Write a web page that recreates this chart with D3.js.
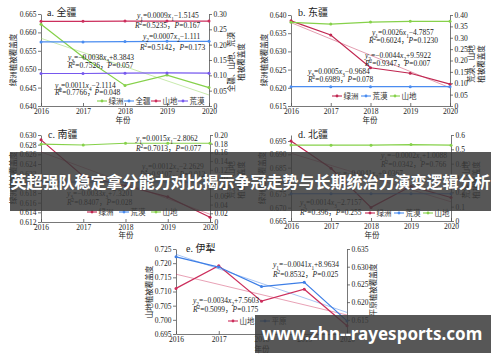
<!DOCTYPE html>
<html>
<head>
<meta charset="utf-8">
<script src="https://cdn.jsdelivr.net/npm/d3@7"></script>
<style>
  body { margin: 0; background: #fff; }
  svg { display: block; font-family: "Liberation Serif", "Noto Sans CJK SC", serif; }
</style>
</head>
<body>
<script>
const years = [2016, 2017, 2018, 2019, 2020];
const fitYears = [2016, 2020];

// a. 全疆
const aOasis = [0.6622, 0.6533, 0.6456, 0.6484, 0.6450];
const aOasisFit = [0.6584, 0.6430];
const aAll = [0.209, 0.209, 0.210, 0.211, 0.211];
const aMount = [0.276, 0.276, 0.277, 0.277, 0.277];
const aDesert = [0.106, 0.106, 0.107, 0.108, 0.107];
const aNotes = ["y_1=0.0009x_1−1.5145", "R^2=0.5235，P=0.167", "y_2=0.0007x_2−1.111", "R^2=0.5142，P=0.173",
  "y_3=−0.0038x_3+8.3843", "R^2=0.7526，P=0.057", "y_4=0.0011x_4−2.1114", "R^2=0.7766，P=0.048"];

// b. 东疆
const bOasis = [0.6384, 0.6345, 0.6255, 0.6240, 0.6210];
const bOasisFit = [0.6379, 0.6200];
const bDesert = [0.085, 0.085, 0.085, 0.085, 0.085];
const bMount = [0.368, 0.360, 0.369, 0.372, 0.372];
const bNotes = ["y_1=0.0026x_1−4.7857", "R^2=0.6024，P=0.1230", "y_2=−0.0044x_2+9.5922", "R^2=0.9347，P=0.007",
  "y_3=0.0005x_3−0.9684", "R^2=0.6989，P=0.078"];

// c. 南疆
const cOasis = [0.6290, 0.6215, 0.6195, 0.6172, 0.6130];
const cOasisFit = [0.6265, 0.6136];
const cDesert = [0.092, 0.092, 0.092, 0.092, 0.092];
const cMount = [0.179, 0.177, 0.181, 0.181, 0.181];
const cNotes = ["y_1=0.0015x_1−2.8062", "R^2=0.7013，P=0.077", "y_2=0.0012x_2−2.2629", "R^2=0.9107，P=0.012",
  "y_3=−0.0033x_3+7.3201", "R^2=0.8407，P=0.028"];

// d. 北疆
const dOasis = [0.6950, 0.6848, 0.6701, 0.6780, 0.6738];
const dOasisFit = [0.6904, 0.6722];
const dDesert = [0.190, 0.190, 0.190, 0.190, 0.190];
const dMount = [0.530, 0.529, 0.529, 0.533, 0.529];
const dNotes = ["y_1=−0.0002x_1+1.0088", "R^2=0.0342，P=0.766", "y_2=−0.0041x_2+9.0367",
  "y_3=0.0014x_3−2.7157", "R^2=0.396，P=0.255"];

// e. 伊犁
const eMount = [0.7111, 0.7191, 0.7066, 0.7108, 0.6979];
const eMountFit = [0.7161, 0.7017];
const ePlain = [0.6328, 0.6299, 0.6244, 0.6256, 0.6147];
const ePlainFit = [0.6335, 0.6171];
const eNotes = ["y_1=−0.0041x_1+8.9634", "R^2=0.8532，P=0.025", "y_2=−0.0034x_2+7.5603", "R^2=0.5099，P=0.175"];

const aLeftTicks = [0.640, 0.645, 0.650, 0.655, 0.660, 0.665];
const aRightTicks = [0, 0.05, 0.10, 0.15, 0.20, 0.25, 0.30];
const bLeftTicks = [0.615, 0.620, 0.625, 0.630, 0.635, 0.640];
const bRightTicks = [0, 0.05, 0.10, 0.15, 0.20, 0.25, 0.30, 0.35, 0.40];
const cLeftTicks = [0.612, 0.614, 0.616, 0.618, 0.620, 0.622, 0.624, 0.626, 0.628, 0.630];
const cRightTicks = [0, 0.02, 0.04, 0.06, 0.08, 0.10, 0.12, 0.14, 0.16, 0.18, 0.20];
const dLeftTicks = [0.665, 0.670, 0.675, 0.680, 0.685, 0.690, 0.695];
const dRightTicks = [0, 0.1, 0.2, 0.3, 0.4, 0.5, 0.6];
const eLeftTicks = [0.695, 0.700, 0.705, 0.710, 0.715, 0.720, 0.725];
const eRightTicks = [0.615, 0.620, 0.625, 0.630, 0.635];

const GREEN = "#86d14a", BLUE = "#4a8cf0", RED = "#cc2e5c", PURPLE = "#7658ee";

const svg = d3.select("body").append("svg").attr("width", 500).attr("height", 362);
svg.append("rect").attr("width", 500).attr("height", 362).attr("fill", "#fff");

// y_1, R^2 style markup -> tspans
function rich(t, s) {
  let i = 0;
  while (i < s.length) {
    const c = s[i];
    if (c === "_" || c === "^") {
      t.append("tspan").attr("font-size", "0.7em")
        .attr("baseline-shift", c === "_" ? "sub" : "super").text(s[i + 1]);
      i += 2;
    } else if ("yxRP".includes(c)) {
      t.append("tspan").attr("font-style", "italic").text(c);
      i++;
    } else {
      let j = i;
      while (j < s.length && !"_^yxRP".includes(s[j])) j++;
      t.append("tspan").text(s.slice(i, j));
      i = j;
    }
  }
}

const fmt2 = d => d === 0 ? "0" : d3.format(".2f")(d);
const fmt1 = d => d === 0 ? "0" : d3.format(".1f")(d);
const fmt3 = d3.format(".3f");

function panel(p) {
  const g = svg.append("g");
  const x = d3.scaleLinear().domain([2016, 2020]).range([p.x0, p.x1]);
  const yL = d3.scaleLinear().domain(p.left).range([p.y1, p.y0]);
  const yR = d3.scaleLinear().domain(p.right).range([p.y1, p.y0]);

  const ax = [
    g.append("g").attr("transform", `translate(0,${p.y1})`)
      .call(d3.axisBottom(x).tickValues(years).tickFormat(d3.format("d")).tickSize(-3).tickSizeOuter(0).tickPadding(3)),
    g.append("g").attr("transform", `translate(${p.x0},0)`)
      .call(d3.axisLeft(yL).tickValues(p.leftTicks).tickFormat(p.leftFmt).tickSize(3).tickSizeOuter(0).tickPadding(1.5)),
    g.append("g").attr("transform", `translate(${p.x1},0)`)
      .call(d3.axisRight(yR).tickValues(p.rightTicks).tickFormat(p.rightFmt).tickSize(3).tickSizeOuter(0).tickPadding(1.5))
  ];
  ax.forEach(a => {
    a.select(".domain").attr("stroke", "#555").attr("stroke-width", 0.8);
    a.selectAll(".tick line").attr("stroke", "#555").attr("stroke-width", 0.8);
    a.selectAll("text").attr("font-size", 7.5).attr("fill", "#222").attr("font-family", "Liberation Serif");
  });

  // fit lines
  p.series.filter(s => s.fit).forEach(s => {
    const y = s.axis === "L" ? yL : yR;
    g.append("path").datum(s.fit)
      .attr("d", d3.line().x((d, i) => x(fitYears[i])).y(d => y(d)))
      .attr("fill", "none").attr("stroke", s.color).attr("stroke-opacity", 0.5).attr("stroke-width", 0.9);
  });

  p.series.forEach(s => {
    const y = s.axis === "L" ? yL : yR;
    g.append("path").datum(s.values)
      .attr("d", d3.line().x((d, i) => x(years[i])).y(d => y(d)))
      .attr("fill", "none").attr("stroke", s.color).attr("stroke-width", 1.2);
    g.selectAll(null).data(s.values).join("circle")
      .attr("cx", (d, i) => x(years[i])).attr("cy", d => y(d))
      .attr("r", 1.5).attr("fill", s.color);
  });

  // legend
  p.series.forEach((s, i) => {
    const lx = p.legend[0] + i * p.legend[2], ly = p.legend[1];
    g.append("line").attr("x1", lx).attr("x2", lx + 10).attr("y1", ly).attr("y2", ly)
      .attr("stroke", s.color).attr("stroke-width", 1.1);
    g.append("circle").attr("cx", lx + 5).attr("cy", ly).attr("r", 1.4).attr("fill", s.color);
    g.append("text").attr("x", lx + 11.5).attr("y", ly).attr("dy", "0.36em")
      .attr("font-size", 7.5).attr("fill", "#333").text(s.name);
  });

  // regression notes
  p.notes.forEach((s, i) => {
    const t = g.append("text").attr("x", p.notePos[i][0]).attr("y", p.notePos[i][1])
      .attr("font-size", 7.5).attr("fill", "#222");
    rich(t, s);
  });

  g.append("text").attr("x", p.title[0]).attr("y", p.title[1])
    .attr("font-size", 10).attr("fill", "#222").text(p.titleText);

  g.append("text").attr("x", p.xLab[0]).attr("y", p.xLab[1]).attr("text-anchor", "middle")
    .attr("font-size", 7.5).attr("fill", "#222").text("年份");

  g.append("text").attr("transform", `translate(${p.yLab[0]},${p.yLab[1]}) rotate(-90)`)
    .attr("text-anchor", "middle").attr("font-size", 7.5).attr("fill", "#222").text(p.yLabText);

  p.yRLabText.forEach((s, i) => {
    g.append("text").attr("transform", `translate(${p.yRLab[0] + i * 10},${p.yRLab[1]}) rotate(-90)`)
      .attr("text-anchor", "middle").attr("font-size", 7.5).attr("fill", "#222").text(s);
  });
}

panel({
  x0: 41, x1: 209, y0: 14, y1: 106,
  left: [0.640, 0.665], right: [0, 0.30],
  leftTicks: aLeftTicks, rightTicks: aRightTicks, leftFmt: fmt3, rightFmt: fmt2,
  series: [
    { name: "绿洲", values: aOasis, fit: aOasisFit, axis: "L", color: GREEN },
    { name: "全疆", values: aAll, axis: "R", color: BLUE },
    { name: "山地", values: aMount, axis: "R", color: RED },
    { name: "荒漠", values: aDesert, axis: "R", color: PURPLE }
  ],
  legend: [97, 101, 27],
  notes: aNotes,
  notePos: [[137, 18], [135, 27.5], [143, 39], [140, 49.5], [68, 59.5], [68, 67.5], [55, 88], [55, 95]],
  title: [47, 16], titleText: "a. 全疆",
  xLab: [123, 123], yLab: [16, 60], yLabText: "绿洲植被覆盖度",
  yRLab: [234, 62], yRLabText: ["全疆、山地、荒漠", "植被覆盖度"]
});

panel({
  x0: 291, x1: 450, y0: 15, y1: 106,
  left: [0.615, 0.640], right: [0, 0.40],
  leftTicks: bLeftTicks, rightTicks: bRightTicks, leftFmt: fmt3, rightFmt: fmt2,
  series: [
    { name: "绿洲", values: bOasis, fit: bOasisFit, axis: "L", color: "#c02650" },
    { name: "荒漠", values: bDesert, axis: "R", color: BLUE },
    { name: "山地", values: bMount, axis: "R", color: GREEN }
  ],
  legend: [332, 96, 29],
  notes: bNotes,
  notePos: [[372, 34.5], [369, 42.5], [365, 58], [365, 66], [308, 74], [308, 82]],
  title: [298, 16], titleText: "b. 东疆",
  xLab: [370, 123], yLab: [267, 60], yLabText: "绿洲植被覆盖度",
  yRLab: [474, 64], yRLabText: ["荒漠、山地", "植被覆盖度"]
});

panel({
  x0: 41, x1: 210, y0: 135, y1: 222,
  left: [0.612, 0.630], right: [0, 0.20],
  leftTicks: cLeftTicks, rightTicks: cRightTicks, leftFmt: fmt3, rightFmt: fmt2,
  series: [
    { name: "绿洲", values: cOasis, fit: cOasisFit, axis: "L", color: "#c02650" },
    { name: "荒漠", values: cDesert, axis: "R", color: BLUE },
    { name: "山地", values: cMount, axis: "R", color: GREEN }
  ],
  legend: [87, 212, 32],
  notes: cNotes,
  notePos: [[136, 141], [136, 151], [142, 169], [140, 177], [67, 196], [67, 205]],
  title: [48, 138], titleText: "c. 南疆",
  xLab: [126, 238], yLab: [16, 178], yLabText: "绿洲植被覆盖度",
  yRLab: [234, 180], yRLabText: ["荒漠、山地", "植被覆盖度"]
});

panel({
  x0: 291, x1: 451, y0: 135, y1: 221,
  left: [0.665, 0.69725], right: [0, 0.6],
  leftTicks: dLeftTicks, rightTicks: dRightTicks, leftFmt: fmt3, rightFmt: fmt1,
  series: [
    { name: "绿洲", values: dOasis, fit: dOasisFit, axis: "L", color: "#c02650" },
    { name: "荒漠", values: dDesert, axis: "R", color: BLUE },
    { name: "山地", values: dMount, axis: "R", color: GREEN }
  ],
  legend: [365, 213, 29],
  notes: dNotes,
  notePos: [[381, 158], [381, 167], [337, 176], [300, 205], [300, 215]],
  title: [298, 138], titleText: "d. 北疆",
  xLab: [372, 238], yLab: [265, 178], yLabText: "绿洲植被覆盖度",
  yRLab: [469, 180], yRLabText: ["荒漠、山地", "植被覆盖度"]
});

panel({
  x0: 176, x1: 347, y0: 249, y1: 334,
  left: [0.695, 0.725], right: [0.611, 0.635],
  leftTicks: eLeftTicks, rightTicks: eRightTicks, leftFmt: fmt3, rightFmt: fmt3,
  series: [
    { name: "山地", values: eMount, fit: eMountFit, axis: "L", color: RED },
    { name: "平原", values: ePlain, fit: ePlainFit, axis: "R", color: "#3d7ee6" }
  ],
  legend: [228, 321, 32],
  notes: eNotes,
  notePos: [[273, 267], [273, 277], [193, 303], [193, 312]],
  title: [186, 252], titleText: "e. 伊犁",
  xLab: [262, 352], yLab: [152, 292], yLabText: "山地植被覆盖度",
  yRLab: [376, 290], yRLabText: ["平原植被覆盖度"]
});

// overlay banners
svg.append("rect").attr("x", 10).attr("y", 152).attr("width", 481).attr("height", 59)
  .attr("fill", "#3a3a3a").attr("fill-opacity", 0.85);
svg.append("text").attr("x", 250.5).attr("y", 182).attr("dy", "0.36em").attr("text-anchor", "middle")
  .attr("font-family", "Noto Sans CJK SC").attr("font-weight", "bold").attr("font-size", 16)
  .attr("fill", "#fff").text("英超强队稳定拿分能力对比揭示争冠走势与长期统治力演变逻辑分析");

svg.append("rect").attr("x", 255).attr("y", 315).attr("width", 236).attr("height", 38)
  .attr("fill", "#3a3a3a").attr("fill-opacity", 0.85);
svg.append("text").attr("x", 372).attr("y", 334).attr("dy", "0.36em").attr("text-anchor", "middle")
  .attr("font-family", "Noto Sans").attr("font-weight", "bold").attr("font-size", 17)
  .attr("fill", "#fff").text("www.zhn--rayesports.com");
</script>
</body>
</html>
